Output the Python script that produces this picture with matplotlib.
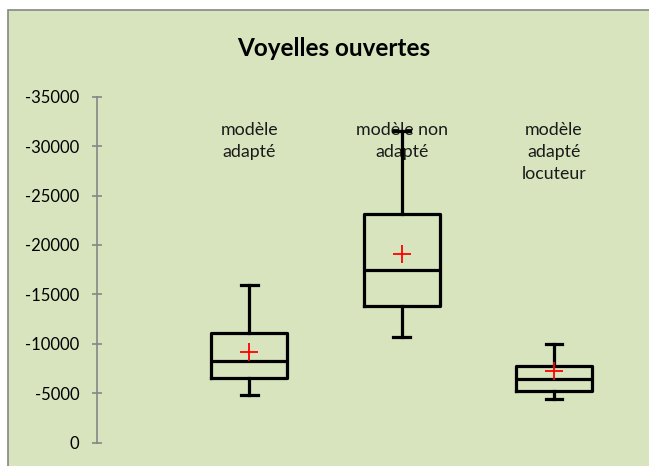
import matplotlib.pyplot as plt
from matplotlib.patches import Rectangle

# données (axe inversé : valeurs négatives)
categories = ["modèle\nadapté", "modèle non\nadapté", "modèle\nadapté\nlocuteur"]
whis_hi = [-16000, -31500, -10000]
q3 = [-11100, -23150, -7750]
medians = [-8250, -17500, -6400]
q1 = [-6500, -13800, -5230]
whis_lo = [-4800, -10650, -4380]
means = [-9200, -19050, -7250]
yticks = [0, -5000, -10000, -15000, -20000, -25000, -30000, -35000]

plt.rcParams["font.family"] = ["Lato", "DejaVu Sans"]

bg = "#d7e4bd"
grey = "#868686"

fig = plt.figure(figsize=(6.49, 4.66), dpi=100)
fig.patch.set_facecolor("white")

# cadre du graphique
fig.add_artist(Rectangle((8.3 / 649, -0.1), 1.2, 1.1 - 10 / 466, transform=fig.transFigure,
                         facecolor=bg, edgecolor=grey, linewidth=1.2, zorder=0))

ax = fig.add_axes([97 / 649, 23.3 / 466, 1 - 97 / 649, 346 / 466])
ax.patch.set_visible(False)

stats = []
for i in range(len(categories)):
    stats.append(dict(med=medians[i], q1=q1[i], q3=q3[i], whislo=whis_lo[i],
                      whishi=whis_hi[i], mean=means[i], fliers=[]))

lw = 2.3
ax.bxp(stats, positions=[1, 2, 3], widths=0.5, capwidths=0.11, showmeans=True,
       boxprops=dict(color="black", linewidth=lw),
       whiskerprops=dict(color="black", linewidth=lw),
       capprops=dict(color="black", linewidth=lw),
       medianprops=dict(color="black", linewidth=lw),
       meanprops=dict(marker="+", markeredgecolor="red", markersize=13, markeredgewidth=1.3))

for i, lab in enumerate(categories):
    ax.text(i + 1, -32450, lab, ha="center", va="top", fontsize=12.8, color="#1a1a1a",
            linespacing=1.45, zorder=1)

ax.set_xlim(0, 3.624)
ax.set_ylim(0, -35000)
ax.set_yticks(yticks)
ax.set_yticklabels([str(v) for v in yticks])
ax.set_xticks([])
for s in ["top", "right", "bottom"]:
    ax.spines[s].set_visible(False)
ax.spines["left"].set_color(grey)
ax.spines["left"].set_linewidth(1.2)
ax.tick_params(axis="y", direction="inout", length=7.7, width=1.2, color=grey,
               pad=9, labelsize=12, labelcolor="black")

fig.text(334 / 649, 1 - 48.3 / 466, "Voyelles ouvertes", ha="center", va="center",
         fontsize=17.5, fontweight="bold")

fig.savefig("out.png", dpi=100)
